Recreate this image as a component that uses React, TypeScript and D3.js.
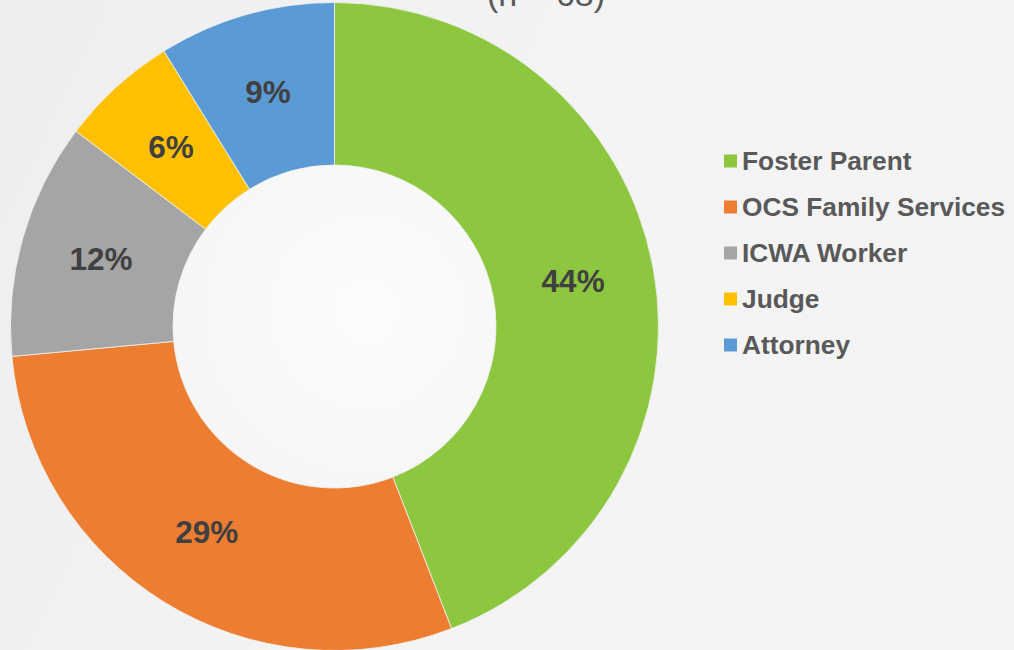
import React from "react";
import * as d3 from "d3";

const categories = ["Foster Parent", "OCS Family Services", "ICWA Worker", "Judge", "Attorney"];
const counts = [30, 20, 8, 4, 6];
const colors = ["#8DC63F", "#ED7D31", "#A5A5A5", "#FFC000", "#5B9BD5"];
const title = "(n = 68)";

const W = 1014;
const H = 650;
const cx = 334.5;
const cy = 326.5;
const rOuter = 324;
const rInner = 161.5;

export default function App() {
  const total = d3.sum(counts);
  const pie = d3.pie<number>().sort(null).value((d) => d);
  const arcs = pie(counts);
  const arc = d3.arc<d3.PieArcDatum<number>>().innerRadius(rInner).outerRadius(rOuter);
  const legendY = d3.scalePoint<string>().domain(categories).range([161, 345]);

  return (
    <div style={{ position: "fixed", left: 0, top: 0, width: W, height: H }}>
      <svg width={W} height={H} style={{ display: "block" }}>
        <defs>
          <linearGradient id="bg" x1="0" y1="0" x2="1" y2="0.3">
            <stop offset="0" stopColor="#eeeef0" />
            <stop offset="0.6" stopColor="#f4f4f5" />
            <stop offset="1" stopColor="#f3f3f3" />
          </linearGradient>
          <radialGradient id="hole" cx="0.6" cy="0.45" r="0.6">
            <stop offset="0" stopColor="#fcfcfd" />
            <stop offset="1" stopColor="#f6f6f7" />
          </radialGradient>
        </defs>
        <rect x={0} y={0} width={W} height={H} fill="url(#bg)" />
        <text
          x={546}
          y={6}
          textAnchor="middle"
          fontFamily="Liberation Sans, Arial, sans-serif"
          fontSize={34}
          fill="#595959"
        >
          {title}
        </text>
        <g transform={`translate(${cx},${cy})`}>
          <circle r={rInner} fill="url(#hole)" />
          {arcs.map((a, i) => (
            <path key={categories[i]} d={arc(a) || ""} fill={colors[i]} stroke="#f2f2f2" strokeWidth={0.8} />
          ))}
          {arcs.map((a, i) => {
            const [x, y] = arc.centroid(a);
            return (
              <text
                key={"l" + i}
                x={x}
                y={y}
                dy="0.33em"
                textAnchor="middle"
                fontFamily="Liberation Sans, Arial, sans-serif"
                fontWeight="bold"
                fontSize={31.5}
                fill="#404040"
              >
                {Math.round((counts[i] / total) * 100)}%
              </text>
            );
          })}
        </g>
        <g>
          {categories.map((c, i) => {
            const y = legendY(c) as number;
            return (
              <g key={c}>
                <rect x={724} y={y - 6.5} width={13} height={13} fill={colors[i]} />
                <text
                  x={742}
                  y={y}
                  dy="0.36em"
                  fontFamily="Liberation Sans, Arial, sans-serif"
                  fontWeight="bold"
                  fontSize={26.3}
                  fill="#595959"
                >
                  {c}
                </text>
              </g>
            );
          })}
        </g>
      </svg>
    </div>
  );
}
